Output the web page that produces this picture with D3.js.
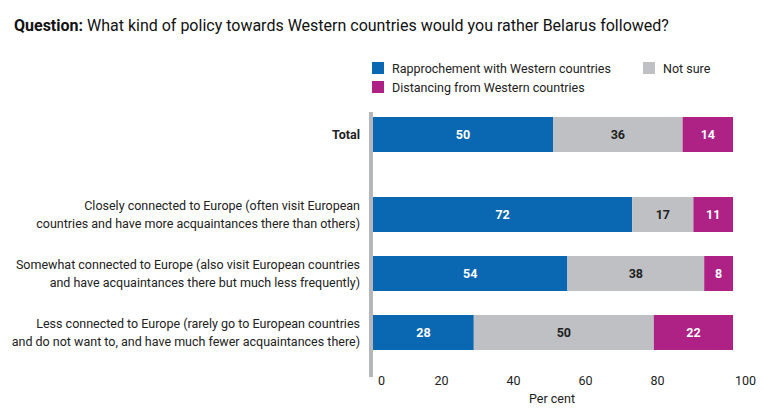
<!DOCTYPE html>
<html><head><meta charset="utf-8">
<script src="https://cdn.jsdelivr.net/npm/d3@7"></script>
<style>body{margin:0;background:#fff;font-family:Roboto,sans-serif}</style>
</head><body><svg id="vis"></svg>
<script>
const categories = [
  ["Total"],
  ["Closely connected to Europe (often visit European", "countries and have more acquaintances there than others)"],
  ["Somewhat connected to Europe (also visit European countries", "and have acquaintances there but much less frequently)"],
  ["Less connected to Europe (rarely go to European countries", "and do not want to, and have much fewer acquaintances there)"]
];
const rapprochement = [50, 72, 54, 28];
const notSure = [36, 17, 38, 50];
const distancing = [14, 11, 8, 22];
const seriesNames = ["Rapprochement with Western countries", "Not sure", "Distancing from Western countries"];
const colors = ["#0a68b2", "#bec0c3", "#ae2286"];
const ticks = [0, 20, 40, 60, 80, 100];

const svg = d3.select("#vis").attr("width", 764).attr("height", 419);
const x = d3.scaleLinear().domain([0, 100]).range([373, 733]);
const rowY = [117, 197, 256, 315], barH = 35;

svg.append("text").attr("x", 14).attr("y", 31).attr("font-size", 16).attr("fill", "#111")
  .html('<tspan font-weight="bold">Question:</tspan> What kind of policy towards Western countries would you rather Belarus followed?');

// legend
const leg = [[372, 62], [643, 62], [372, 81]];
seriesNames.forEach((n, i) => {
  svg.append("rect").attr("x", leg[i][0]).attr("y", leg[i][1]).attr("width", 12).attr("height", 12).attr("fill", colors[i]);
  svg.append("text").attr("x", leg[i][0] + 20).attr("y", leg[i][1] + 10.5).attr("font-size", 12.5).attr("fill", "#222").text(n);
});

const data = categories.map((c, i) => [rapprochement[i], notSure[i], distancing[i]]);
data.forEach((vals, i) => {
  let acc = 0;
  vals.forEach((v, j) => {
    svg.append("rect").attr("x", x(acc)).attr("y", rowY[i]).attr("width", x(acc + v) - x(acc)).attr("height", barH).attr("fill", colors[j]);
    svg.append("text").attr("x", (x(acc) + x(acc + v)) / 2).attr("y", rowY[i] + barH / 2 + 4.5)
      .attr("text-anchor", "middle").attr("font-size", 12.5).attr("font-weight", "bold")
      .attr("fill", j === 1 ? "#222" : "#fff").text(v);
    acc += v;
  });
  const lines = categories[i];
  const t = svg.append("text").attr("text-anchor", "end").attr("font-size", 12.5).attr("fill", "#222")
    .attr("font-weight", i === 0 ? "bold" : "normal");
  lines.forEach((l, k) => {
    t.append("tspan").attr("x", 360).attr("y", rowY[i] + barH / 2 + 4.5 + (k - (lines.length - 1) / 2) * 18).text(l);
  });
});

svg.append("rect").attr("x", 369).attr("y", 112).attr("width", 4).attr("height", 265).attr("fill", "#b5b7ba");

const ax = svg.append("g").attr("transform", "translate(0,376)")
  .call(d3.axisBottom(x).tickValues(ticks).tickSize(0).tickPadding(0));
ax.select(".domain").remove();
ax.selectAll("text").attr("font-size", 12.5).attr("fill", "#222").attr("font-family", "Roboto")
  .attr("dx", d => d === 0 ? 8 : d === 100 ? 12 : -4);

svg.append("text").attr("x", 552).attr("y", 403).attr("text-anchor", "middle").attr("font-size", 12.5).attr("fill", "#222").text("Per cent");
</script></body></html>
